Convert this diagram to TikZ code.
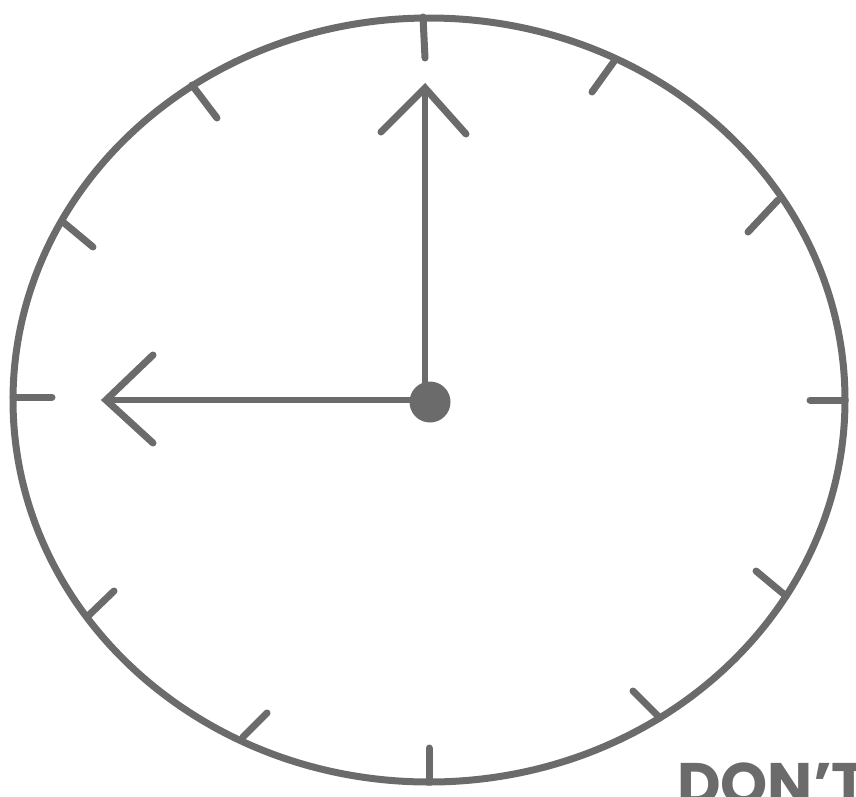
\documentclass[tikz,border=0pt]{standalone}
\usepackage{fontspec}
\usepackage{tikz}
\usepackage{xcolor}
\newfontfamily\signfont{Poppins}[BoldFont={* Bold}]
\definecolor{ink}{gray}{0.42}

\begin{document}
\begin{tikzpicture}[x=1pt, y=-1pt,
    rim/.style={draw=ink, line width=7pt},
    tick/.style={draw=ink, line width=7pt, line cap=round},
    hand/.style={draw=ink, line width=6.5pt},
    head/.style={draw=ink, line width=7pt, line cap=round, line join=miter},
    sign/.style={text=ink, font=\signfont\bfseries\fontsize{60}{60}\selectfont, inner sep=0pt}
]

\useasboundingbox (0,0) rectangle (856,796);
\clip (0,0) rectangle (856,796);

% Face
\coordinate (centre) at (429,400);
\draw[rim] (centre) ellipse [x radius=416, y radius=382];

% Hour marks (rim end / inner end)
\foreach \ox/\oy/\ix/\iy in {423/17/425/58, 615/60/592/92, 778/200/748/232,
    845/400/810/400, 786/596/756/571, 660/718/633/691, 429/782/429/748,
    243/737/267/713, 87/617/114/591, 13/397/52/397, 63/222/93/247, 192/85/217/118} {
    \coordinate (out) at (\ox,\oy);
    \coordinate (in) at (\ix,\iy);
    \draw[tick] (out) -- (in);
}

% Hands
\coordinate (hub) at (430,402);
\coordinate (mtip) at (425,88);
\coordinate (htip) at (106,400);
\draw[hand] (hub -| mtip) -- (mtip);
\draw[hand] (hub |- htip) -- (htip);

% Arrow heads
\draw[head] (381,132) -- (mtip) -- (466,134);
\draw[head] (153,355) -- (htip) -- (153,443);

% Centre pin
\fill[ink] (hub) circle [radius=20.5];

% Caption
\node[sign, anchor=base west] (caption) at (677,805) {DON’T};

\end{tikzpicture}
\end{document}
